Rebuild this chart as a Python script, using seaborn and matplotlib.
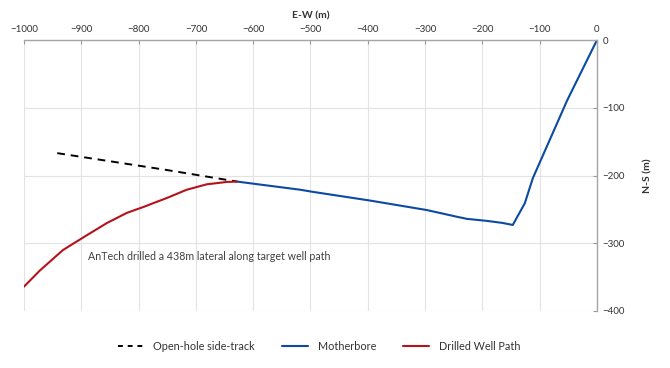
import matplotlib
matplotlib.use("Agg")
import matplotlib.pyplot as plt
import seaborn as sns
import pandas as pd
from matplotlib.lines import Line2D

# Data (metres)
mother_ew = [0, -52, -112, -126, -147, -165, -192, -227, -244, -297, -396, -497, -518, -628]
mother_ns = [0, -89, -204, -241, -273, -270, -267, -264, -261, -251, -237, -224, -221, -209]

drilled_ew = [-628, -646, -681, -716, -750, -775, -790, -820, -855, -890, -932, -972, -1000]
drilled_ns = [-209, -209.5, -213, -221, -233, -241, -246, -255, -270, -288, -310, -340, -364]

side_ew = [-942, -750, -628]
side_ns = [-167, -192, -209]

annotation = "AnTech drilled a 438m lateral along target well path"
x_ticks = list(range(-1000, 1, 100))
y_ticks = list(range(-400, 1, 100))

sns.set_style("white")
plt.rcParams['font.family'] = ['Lato', 'DejaVu Sans']

fig = plt.figure(figsize=(6.7, 3.68), dpi=100)
ax = fig.add_axes([24/670, 1-311/368, (597-24)/670, (311-40)/368])

blue = "#0b4aa2"
red = "#b5121b"

df_m = pd.DataFrame({"ew": mother_ew, "ns": mother_ns})
df_d = pd.DataFrame({"ew": drilled_ew, "ns": drilled_ns})
df_s = pd.DataFrame({"ew": side_ew, "ns": side_ns})

sns.lineplot(data=df_s, x="ew", y="ns", sort=False, ax=ax, color="black",
             linestyle=(0, (4, 3)), linewidth=1.4, estimator=None)
sns.lineplot(data=df_m, x="ew", y="ns", sort=False, ax=ax, color=blue,
             linewidth=1.5, estimator=None)
sns.lineplot(data=df_d, x="ew", y="ns", sort=False, ax=ax, color=red,
             linewidth=1.5, estimator=None)

ax.set_xlim(-1000, 0)
ax.set_ylim(-400, 0)
ax.set_xticks(x_ticks)
ax.set_yticks(y_ticks)
ax.xaxis.tick_top()
ax.yaxis.tick_right()
ax.xaxis.set_label_position("top")
ax.yaxis.set_label_position("right")
ax.tick_params(axis="both", direction="in", length=3, width=0.8, color="#999999",
               labelsize=7, labelcolor="#333333", pad=4)
ax.grid(True, color="#e3e3e3", linewidth=0.8)
ax.set_axisbelow(True)
for s in ["left", "bottom"]:
    ax.spines[s].set_visible(False)
for s in ["top", "right"]:
    ax.spines[s].set_color("#a6a6a6")
    ax.spines[s].set_linewidth(1.0)

ax.set_xlabel("E-W (m)", fontsize=7.5, fontweight="bold", color="#333333", labelpad=5)
ax.set_ylabel("N-S (m)", fontsize=7.5, fontweight="bold", color="#333333", labelpad=13)

ax.text(-888, -319, annotation, fontsize=7.7, color="#404040", va="center", ha="left")

handles = [
    Line2D([], [], color="black", linestyle=(0, (2.5, 2.5)), linewidth=1.4),
    Line2D([], [], color=blue, linewidth=1.5),
    Line2D([], [], color=red, linewidth=1.5),
]
labels = ["Open-hole side-track", "Motherbore", "Drilled Well Path"]
fig.legend(handles, labels, loc="center", bbox_to_anchor=(319/670, 1-346/368), ncol=3,
           frameon=False, fontsize=7.8, handlelength=2.4, columnspacing=2.5,
           handletextpad=0.9, labelcolor="#333333")

fig.savefig("out.png", dpi=100)
